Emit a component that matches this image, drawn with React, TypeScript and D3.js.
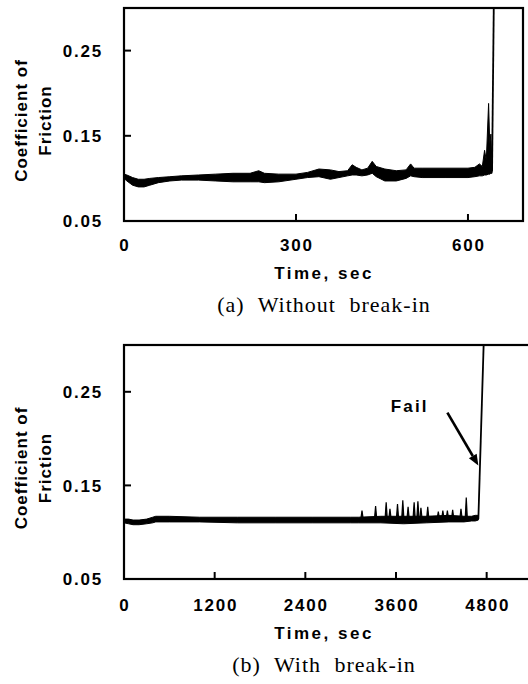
import React from "react";
import * as d3 from "d3";

// (a) Without break-in: friction trace is a thick noisy band, kept as upper/lower envelope
const timeA = [0, 5, 15, 25, 35, 45, 60, 80, 100, 130, 160, 190, 220, 235, 245, 270, 300, 320, 340, 360, 375, 390, 398, 405, 415, 425, 433, 440, 455, 475, 492, 500, 506, 520, 560, 600, 612, 620, 625, 629, 632, 636, 638, 640, 642];
const upperA = [0.105, 0.104, 0.101, 0.099, 0.099, 0.1, 0.101, 0.102, 0.103, 0.104, 0.105, 0.106, 0.106, 0.109, 0.106, 0.105, 0.105, 0.107, 0.111, 0.11, 0.108, 0.109, 0.116, 0.113, 0.11, 0.112, 0.12, 0.114, 0.111, 0.109, 0.11, 0.117, 0.112, 0.112, 0.112, 0.112, 0.113, 0.117, 0.114, 0.133, 0.121, 0.188, 0.14, 0.152, 0.112];
const lowerA = [0.1, 0.097, 0.092, 0.09, 0.09, 0.092, 0.095, 0.097, 0.098, 0.098, 0.097, 0.096, 0.096, 0.096, 0.095, 0.096, 0.099, 0.101, 0.102, 0.099, 0.101, 0.103, 0.104, 0.104, 0.103, 0.104, 0.106, 0.102, 0.097, 0.097, 0.1, 0.103, 0.102, 0.101, 0.101, 0.101, 0.102, 0.103, 0.103, 0.104, 0.104, 0.105, 0.105, 0.106, 0.106];
const failTimeA = [642, 645];
const failCofA = [0.108, 0.3];
const xTicksA = [300, 600];
const xLabelsA = [0, 300, 600];

// (b) With break-in
const timeB = [0, 60, 120, 200, 300, 380, 420, 600, 1000, 1500, 2000, 2500, 3000, 3100, 3400, 3700, 4000, 4300, 4500, 4600, 4650, 4690];
const upperB = [0.114, 0.114, 0.113, 0.113, 0.114, 0.116, 0.117, 0.117, 0.116, 0.116, 0.116, 0.116, 0.116, 0.116, 0.117, 0.117, 0.117, 0.118, 0.117, 0.117, 0.118, 0.118];
const lowerB = [0.11, 0.109, 0.108, 0.108, 0.109, 0.11, 0.111, 0.111, 0.111, 0.11, 0.11, 0.11, 0.11, 0.11, 0.11, 0.109, 0.11, 0.111, 0.111, 0.112, 0.112, 0.113];
const spikeTimeB = [3150, 3330, 3470, 3520, 3620, 3690, 3760, 3840, 3890, 3930, 4020, 4160, 4220, 4280, 4350, 4460, 4530];
const spikeCofB = [0.123, 0.128, 0.132, 0.125, 0.13, 0.134, 0.127, 0.132, 0.133, 0.126, 0.127, 0.122, 0.123, 0.123, 0.124, 0.125, 0.137];
const failTimeB = [4690, 4760];
const failCofB = [0.114, 0.3];
const xTicksB = [1200, 2400, 3600, 4800];
const xLabelsB = [0, 1200, 2400, 3600, 4800];
// "Fail" annotation: label position and arrow tail -> tip, in data units
const failLabel = { t: 3530, cof: 0.228 };
const arrowTime = [4280, 4690];
const arrowCof = [0.2277, 0.1713];

const yTicks = [0.25, 0.15];
const yLabels = [0.25, 0.15, 0.05];

const SANS = '"Liberation Sans", Arial, Helvetica, sans-serif';
const SERIF = '"Liberation Serif", "Times New Roman", serif';

type Box = { left: number; right: number; top: number; bottom: number };

function Panel(props: {
  id: string;
  box: Box;
  xMax: number;
  xTicks: number[];
  xLabels: number[];
  time: number[];
  upper: number[];
  lower: number[];
  failTime: number[];
  failCof: number[];
  spikeTime?: number[];
  spikeCof?: number[];
  caption: string;
  labelGap: number;
  annotate?: boolean;
}) {
  const { id, box, xMax, time, upper, lower } = props;
  const x = d3.scaleLinear().domain([0, xMax]).range([box.left, box.right]);
  const y = d3.scaleLinear().domain([0.05, 0.3]).range([box.bottom, box.top]);

  const band = d3
    .area<number>()
    .x((_, i) => x(time[i]))
    .y0((_, i) => y(lower[i]))
    .y1((d) => y(d));

  const failLine = d3
    .line<number>()
    .x((_, i) => x(props.failTime[i]))
    .y((d) => y(d));

  const spikeBase = 0.115;
  const spikes = (props.spikeTime || []).map((t, i) =>
    d3.line<[number, number]>().x((d) => x(d[0])).y((d) => y(d[1]))([
      [t - 14, spikeBase],
      [t, props.spikeCof![i]],
      [t + 14, spikeBase],
    ])
  );

  const midY = (box.top + box.bottom) / 2 + 6;
  const midX = 324;

  // arrow for the "Fail" note
  let arrow = null;
  if (props.annotate) {
    const x1 = x(arrowTime[0]), y1 = y(arrowCof[0]);
    const x2 = x(arrowTime[1]), y2 = y(arrowCof[1]);
    const ang = Math.atan2(y2 - y1, x2 - x1);
    const hl = 11, hw = 4.5;
    const bx = x2 - hl * Math.cos(ang), by = y2 - hl * Math.sin(ang);
    const head = [
      [x2, y2],
      [bx + hw * Math.sin(ang), by - hw * Math.cos(ang)],
      [bx - hw * Math.sin(ang), by + hw * Math.cos(ang)],
    ];
    arrow = (
      <g>
        <line x1={x1} y1={y1} x2={bx} y2={by} stroke="#000" strokeWidth={2.6} />
        <polygon points={head.map((p) => p.join(",")).join(" ")} fill="#000" />
        <text
          x={x(failLabel.t)}
          y={y(failLabel.cof)}
          fontFamily={SANS}
          fontWeight="bold"
          fontSize={17}
          letterSpacing={2.2}
        >
          Fail
        </text>
      </g>
    );
  }

  return (
    <g>
      <defs>
        <clipPath id={id}>
          <rect x={box.left} y={box.top} width={box.right - box.left} height={box.bottom - box.top} />
        </clipPath>
      </defs>
      <g clipPath={`url(#${id})`}>
        <path d={band(upper) || ""} fill="#000" stroke="#000" strokeWidth={1} strokeLinejoin="round" />
        {spikes.map((d, i) => (
          <path key={i} d={d || ""} fill="#000" stroke="#000" strokeWidth={1.2} />
        ))}
        <path d={failLine(props.failCof) || ""} fill="none" stroke="#000" strokeWidth={1.8} />
      </g>
      <rect
        x={box.left}
        y={box.top}
        width={box.right - box.left}
        height={box.bottom - box.top}
        fill="none"
        stroke="#000"
        strokeWidth={2.2}
      />
      {yTicks.map((v) => (
        <line key={v} x1={box.left} x2={box.left + 7} y1={y(v)} y2={y(v)} stroke="#000" strokeWidth={2} />
      ))}
      {props.xTicks.map((t) => (
        <line key={t} x1={x(t)} x2={x(t)} y1={box.bottom} y2={box.bottom - 7} stroke="#000" strokeWidth={2} />
      ))}
      <g fontFamily={SANS} fontWeight="bold" fontSize={17} fill="#000" letterSpacing={1.8}>
        {yLabels.map((v) => (
          <text key={v} x={103} y={y(v)} dy="0.36em" textAnchor="end">
            {v.toFixed(2)}
          </text>
        ))}
        {props.xLabels.map((t) => (
          <text key={t} x={x(t) + 1} y={box.bottom + props.labelGap} textAnchor="middle">
            {t}
          </text>
        ))}
        <text x={midX} y={box.bottom + props.labelGap + 28} textAnchor="middle" letterSpacing={2.5}>
          Time, sec
        </text>
      </g>
      <g fontFamily={SANS} fontWeight="bold" fontSize={17} letterSpacing={1} textAnchor="middle">
        <text transform={`translate(27,${midY}) rotate(-90)`}>Coefficient of</text>
        <text transform={`translate(51,${midY}) rotate(-90)`}>Friction</text>
      </g>
      <text
        x={midX}
        y={box.bottom + props.labelGap + 61}
        textAnchor="middle"
        fontFamily={SERIF}
        fontSize={22}
        letterSpacing={1}
        wordSpacing={7}
      >
        {props.caption}
      </text>
      {arrow}
    </g>
  );
}

export default function App() {
  return (
    <div style={{ position: "absolute", left: 0, top: 0 }}>
      <svg width={528} height={684} style={{ display: "block", background: "#fff" }}>
        <Panel
          id="clipA"
          box={{ left: 124, right: 523, top: 8, bottom: 221 }}
          xMax={696}
          xTicks={xTicksA}
          xLabels={xLabelsA}
          time={timeA}
          upper={upperA}
          lower={lowerA}
          failTime={failTimeA}
          failCof={failCofA}
          caption="(a) Without break-in"
          labelGap={30}
        />
        <Panel
          id="clipB"
          box={{ left: 124, right: 532, top: 345, bottom: 579 }}
          xMax={5400}
          xTicks={xTicksB}
          xLabels={xLabelsB}
          time={timeB}
          upper={upperB}
          lower={lowerB}
          spikeTime={spikeTimeB}
          spikeCof={spikeCofB}
          failTime={failTimeB}
          failCof={failCofB}
          caption="(b) With break-in"
          labelGap={32}
          annotate
        />
      </svg>
    </div>
  );
}
